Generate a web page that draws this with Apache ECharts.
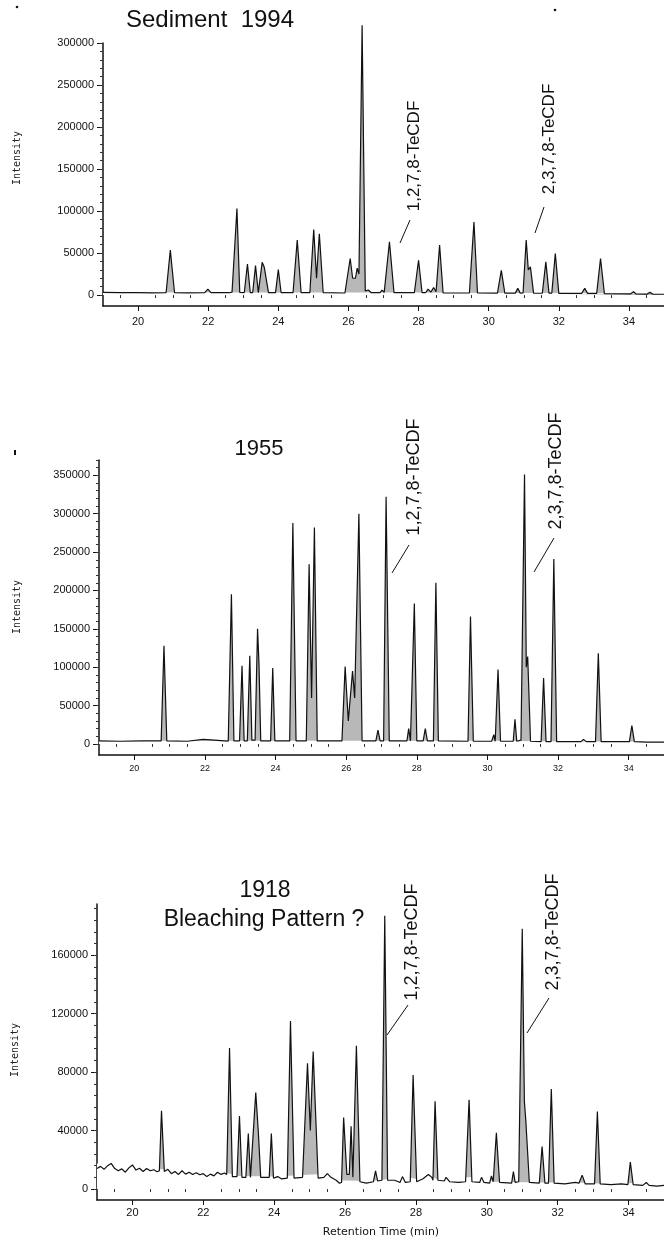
<!DOCTYPE html>
<html>
<head>
<meta charset="utf-8">
<script src="https://cdn.jsdelivr.net/npm/echarts@6/dist/echarts.min.js"></script>
<style>
  html, body { margin: 0; padding: 0; background: #fff; }
  #chart { width: 664px; height: 1242px; }
</style>
</head>
<body>
<div id="chart"></div>
<script>
// retention time ticks (min)
const xTicks = [20, 22, 24, 26, 28, 30, 32, 34];
const xMinorTicks = [19.5, 20.5, 21, 21.5, 22.5, 23, 23.5, 24.5, 25, 25.5, 26.5, 27, 27.5, 28.5, 29, 29.5, 30.5, 31, 31.5, 32.5, 33, 33.5, 34.5];
const yTicks1994 = [0, 50000, 100000, 150000, 200000, 250000, 300000];
const yTicks1955 = [0, 50000, 100000, 150000, 200000, 250000, 300000, 350000];
const yTicks1918 = [0, 40000, 80000, 120000, 160000];

// Sediment 1994 trace [time, intensity]
const trace1994 = [
  [19.0, 3200], [19.5, 2800], [20.0, 3000], [20.4, 2700], [20.8, 2800], [20.92, 53500], [21.04, 2800],
  [21.4, 2600], [21.9, 3000], [21.99, 7000], [22.08, 2800], [22.6, 2800],
  [22.68, 3500], [22.76, 60000], [22.82, 103000], [22.9, 3200],
  [23.03, 3000], [23.12, 37000], [23.2, 3000], [23.27, 3000], [23.35, 35000], [23.43, 3000],
  [23.47, 3500], [23.54, 39000], [23.6, 33000], [23.64, 34000], [23.72, 3000],
  [23.92, 3000], [24.0, 30500], [24.08, 2800], [24.42, 2800], [24.54, 65500], [24.65, 2800],
  [24.9, 3000], [25.01, 78000], [25.09, 20000], [25.17, 73000], [25.28, 2800],
  [25.9, 2500], [26.05, 43500], [26.12, 20000], [26.2, 20000], [26.25, 32000], [26.3, 25000],
  [26.39, 321000], [26.48, 5000], [26.57, 6000], [26.65, 2800],
  [26.9, 3000], [26.96, 6000], [27.02, 3200], [27.17, 63500], [27.3, 2800],
  [27.88, 2800], [28.0, 41500], [28.1, 2800], [28.2, 2800], [28.27, 7000], [28.35, 3500],
  [28.43, 9000], [28.5, 4000], [28.6, 59500], [28.7, 2500],
  [29.45, 2500], [29.58, 87000], [29.68, 2500], [30.25, 2400], [30.36, 29500], [30.46, 2300],
  [30.76, 2300], [30.83, 8000], [30.9, 2300], [30.98, 2500], [31.07, 65500], [31.13, 30000],
  [31.19, 33500], [31.28, 2300], [31.53, 2200], [31.63, 39500], [31.72, 2300], [31.8, 2300],
  [31.9, 49500], [32.0, 2000], [32.65, 2000], [32.74, 8000], [32.82, 2000],
  [33.08, 2000], [33.19, 43500], [33.3, 1800], [34.05, 1500], [34.13, 4000], [34.2, 1500],
  [34.52, 1200], [34.6, 3200], [34.68, 1200], [35.0, 1000]
];
const base1994 = [[19.0, 3300], [22, 3100], [26, 3100], [28, 3000], [30, 2600], [32, 2400], [35, 1600]];

// 1955 trace
const trace1955 = [
  [19.0, 4000], [19.6, 3500], [20.2, 4000], [20.76, 4000], [20.84, 128000], [20.92, 4000],
  [21.5, 3500], [21.95, 6000], [22.0, 3500], [22.66, 3800], [22.75, 195000], [22.82, 4000],
  [22.98, 4000], [23.05, 102000], [23.11, 4000], [23.2, 4000], [23.27, 115000], [23.33, 5000],
  [23.42, 5000], [23.49, 150000], [23.53, 105000], [23.58, 4000],
  [23.86, 4000], [23.92, 99000], [23.98, 4000], [24.4, 4000], [24.49, 288000], [24.58, 4000],
  [24.87, 4000], [24.95, 234000], [25.02, 60000], [25.1, 282000], [25.18, 4000],
  [25.88, 4000], [25.97, 101000], [26.06, 30000], [26.18, 95000], [26.24, 60000],
  [26.36, 300000], [26.45, 4000], [26.84, 4000], [26.9, 18000], [26.96, 4000],
  [27.06, 4000], [27.13, 322000], [27.22, 4000], [27.72, 4000], [27.77, 20000], [27.82, 4000],
  [27.87, 4000], [27.93, 183000], [28.0, 4000], [28.18, 4000], [28.24, 20000], [28.3, 4000],
  [28.47, 4000], [28.54, 210000], [28.61, 4000], [29.45, 3500], [29.52, 166000], [29.6, 3500],
  [30.12, 3500], [30.18, 12000], [30.22, 3500], [30.3, 97000], [30.37, 3500],
  [30.73, 3500], [30.78, 32000], [30.83, 3500], [30.95, 5000], [31.05, 351000], [31.1, 100000],
  [31.14, 114000], [31.22, 3500], [31.52, 3000], [31.59, 86000], [31.66, 3000],
  [31.8, 3000], [31.88, 241000], [31.96, 3000], [32.65, 3000], [32.72, 6000], [32.8, 3000],
  [33.06, 3000], [33.14, 118000], [33.22, 3000], [34.02, 3000], [34.09, 24000], [34.16, 3000],
  [34.5, 2500], [35.0, 2500]
];
const base1955 = [[19.0, 4200], [30, 4200], [31.4, 3600], [35, 2800]];

// 1918 trace
const trace1918 = [
  [19.0, 14000], [19.1, 15500], [19.2, 13500], [19.3, 16000], [19.4, 17500], [19.5, 14000],
  [19.6, 12500], [19.7, 13800], [19.8, 11500], [19.9, 14500], [20.0, 16500], [20.1, 13000],
  [20.2, 14200], [20.3, 12000], [20.4, 14000], [20.5, 12500], [20.6, 13200], [20.7, 11800],
  [20.76, 12500], [20.82, 53500], [20.9, 12000], [21.0, 13500], [21.1, 10500], [21.2, 12000],
  [21.3, 10000], [21.4, 12500], [21.5, 10200], [21.6, 11500], [21.7, 10000], [21.8, 11200],
  [21.9, 9800], [22.0, 10500], [22.1, 8500], [22.2, 10200], [22.3, 9000], [22.4, 11500],
  [22.5, 10000], [22.6, 11000], [22.66, 10000], [22.74, 96500], [22.82, 8500],
  [22.95, 8500], [23.02, 50000], [23.09, 8000], [23.2, 8000], [23.27, 38000], [23.33, 8000],
  [23.38, 9000], [23.48, 66000], [23.55, 40000], [23.62, 8000],
  [23.86, 8000], [23.92, 38000], [23.98, 7500], [24.1, 8500], [24.2, 7000],
  [24.37, 7500], [24.46, 115000], [24.56, 7500], [24.8, 8000], [24.94, 86000], [25.02, 40000],
  [25.1, 94000], [25.24, 7500], [25.4, 8000], [25.5, 10500], [25.6, 8000], [25.75, 6000],
  [25.84, 4000], [25.9, 4500], [25.96, 49000], [26.05, 10000], [26.12, 10000], [26.17, 43000],
  [26.22, 8000], [26.32, 98000], [26.42, 5000], [26.6, 4000], [26.8, 5000], [26.86, 12500],
  [26.92, 5500], [27.04, 6000], [27.12, 187000], [27.2, 6000], [27.4, 6000], [27.55, 4500],
  [27.62, 8500], [27.7, 4500], [27.84, 5000], [27.92, 78000], [28.02, 5000], [28.2, 7000],
  [28.35, 10000], [28.45, 8000], [28.48, 6000], [28.54, 60000], [28.62, 6000], [28.8, 5500],
  [28.85, 8000], [28.95, 5000], [29.2, 4500], [29.4, 5000], [29.44, 5000], [29.5, 61000],
  [29.58, 5000], [29.8, 4500], [29.85, 8000], [29.92, 4500], [30.08, 4000], [30.13, 9000],
  [30.18, 5000], [30.27, 38500], [30.36, 4500], [30.7, 4000], [30.75, 12000], [30.8, 4500],
  [30.9, 5000], [31.0, 178000], [31.06, 60000], [31.1, 47000], [31.2, 4500],
  [31.48, 4000], [31.56, 29000], [31.64, 4000], [31.74, 4000], [31.82, 68500], [31.9, 4000],
  [32.2, 3500], [32.5, 4500], [32.6, 4000], [32.69, 9500], [32.78, 3500], [33.04, 3500],
  [33.12, 53000], [33.2, 3500], [33.5, 3000], [33.8, 3500], [33.98, 3000], [34.05, 18500],
  [34.13, 3000], [34.4, 2500], [34.5, 4500], [34.58, 2500], [34.8, 2000], [35.0, 2500]
];
const base1918 = [
  [19.0, 17500], [20.0, 16500], [20.7, 13500], [21.0, 13500], [22.0, 11000], [22.6, 11500],
  [23.0, 9000], [24.0, 8500], [25.5, 10500], [25.8, 6000], [26.5, 5500], [27.0, 6000],
  [27.6, 8500], [28.0, 7000], [28.35, 10000], [28.6, 6500], [29.0, 8000], [29.9, 8000],
  [30.2, 5000], [31.5, 4500], [32.5, 4500], [33.5, 3500], [34.5, 4500], [35.0, 2500]
];

const FONT = "Liberation Sans";
const panels = [
  { trace: trace1994, base: base1994, yTicks: yTicks1994, yMinor: 10000,
    grid: { left: 103, top: 43, width: 565, height: 263 },
    xMin: 19, yMin: -13000, yMax: 300000, xFont: 11, yFont: 11, xMargin: 10 },
  { trace: trace1955, base: base1955, yTicks: yTicks1955, yMinor: 10000,
    grid: { left: 99, top: 460, width: 568, height: 295 },
    xMin: 19, yMin: -14400, yMax: 370000, xFont: 9, yFont: 11, xMargin: 9 },
  { trace: trace1918, base: base1918, yTicks: yTicks1918, yMinor: 8000,
    grid: { left: 97, top: 904, width: 567, height: 296 },
    xMin: 19, yMin: -7500, yMax: 195000, xFont: 11, yFont: 11, xMargin: 7 }
];

const grids = [], xAxes = [], yAxes = [], series = [];
panels.forEach((p, i) => {
  grids.push(p.grid);
  const minorY = [];
  for (let v = 0; v <= p.yMax; v += p.yMinor) minorY.push(v);
  xAxes.push({
    type: "value", gridIndex: i, min: p.xMin, max: 35,
    axisLine: { onZero: false, lineStyle: { color: "#111", width: 1.5 } },
    axisTick: { customValues: xTicks, length: 5, lineStyle: { color: "#111" } },
    axisLabel: { customValues: xTicks, color: "#111", fontSize: p.xFont, fontFamily: FONT,
      margin: p.xMargin, formatter: (v) => String(v) },
    splitLine: { show: false }
  });
  xAxes.push({
    type: "value", gridIndex: i, min: p.xMin, max: 35, position: "bottom",
    axisLine: { show: false },
    axisTick: { customValues: xMinorTicks, length: 3, lineStyle: { color: "#333" } },
    axisLabel: { show: false }, splitLine: { show: false }
  });
  yAxes.push({
    type: "value", gridIndex: i, min: p.yMin, max: p.yMax,
    axisLine: { show: true, lineStyle: { color: "#111", width: 1.5 } },
    axisTick: { customValues: p.yTicks, length: 6, lineStyle: { color: "#111" } },
    axisLabel: { customValues: p.yTicks, color: "#111", fontSize: p.yFont, fontFamily: FONT,
      margin: 9, formatter: (v) => String(v) },
    splitLine: { show: false }
  });
  yAxes.push({
    type: "value", gridIndex: i, min: p.yMin, max: p.yMax, position: "left",
    axisLine: { show: false },
    axisTick: { customValues: minorY, length: 3, lineStyle: { color: "#333" } },
    axisLabel: { show: false }, splitLine: { show: false }
  });
  const xi = i * 2, yi = i * 2;
  // grey fill under peaks
  series.push({
    type: "line", xAxisIndex: xi, yAxisIndex: yi, data: p.trace, symbol: "none",
    clip: false, silent: true, z: 1,
    lineStyle: { width: 0 }, areaStyle: { color: "rgba(0,0,0,0.28)", opacity: 1 }
  });
  // white mask up to the baseline
  series.push({
    type: "line", xAxisIndex: xi, yAxisIndex: yi, data: p.base, symbol: "none",
    clip: false, silent: true, z: 2,
    lineStyle: { width: 0 }, areaStyle: { color: "#fff", opacity: 1 }
  });
  // trace
  series.push({
    type: "line", xAxisIndex: xi, yAxisIndex: yi, data: p.trace, symbol: "none",
    clip: false, z: 3, lineStyle: { color: "#111", width: 1.2 }
  });
});

function vText(text, x, y, size) {
  return { type: "text", x: x, y: y, rotation: Math.PI / 2, z: 10,
    style: { text: text, fontSize: size, fontFamily: FONT, fill: "#111",
      textAlign: "center", textVerticalAlign: "middle", align: "center", verticalAlign: "middle" } };
}
function hText(text, x, y, size, family) {
  return { type: "text", x: x, y: y, z: 10,
    style: { text: text, fontSize: size, fontFamily: family || FONT, fill: "#111",
      textAlign: "center", textVerticalAlign: "middle", align: "center", verticalAlign: "middle" } };
}
function lead(x1, y1, x2, y2) {
  return { type: "line", z: 10, shape: { x1: x1, y1: y1, x2: x2, y2: y2 }, style: { stroke: "#111", lineWidth: 1 } };
}
function yTitle(x, y) {
  return { type: "text", x: x, y: y, rotation: Math.PI / 2, z: 10,
    style: { text: "Intensity", fontSize: 10, fontFamily: "DejaVu Sans Mono", fill: "#222",
      textAlign: "center", textVerticalAlign: "middle", align: "center", verticalAlign: "middle" } };
}

const graphics = [
  hText("Sediment  1994", 210, 20, 24),
  vText("1,2,7,8-TeCDF", 414, 156, 17),
  lead(410, 220, 400, 243),
  vText("2,3,7,8-TeCDF", 549, 139, 17),
  lead(544, 207, 535, 233),
  yTitle(17, 158),

  hText("1955", 259, 449, 22),
  vText("1,2,7,8-TeCDF", 414, 477, 18),
  lead(409, 545, 392, 573),
  vText("2,3,7,8-TeCDF", 556, 471, 18),
  lead(554, 538, 534, 572),
  yTitle(17, 607),

  hText("1918", 265, 891, 23),
  hText("Bleaching Pattern ?", 264, 920, 23),
  vText("1,2,7,8-TeCDF", 412, 942, 18),
  lead(408, 1005, 387, 1035),
  vText("2,3,7,8-TeCDF", 553, 932, 18),
  lead(549, 998, 527, 1033),
  yTitle(15, 1050),
  hText("Retention Time (min)", 381, 1232, 11, "DejaVu Sans"),

  { type: "circle", shape: { cx: 17, cy: 7, r: 1.3 }, style: { fill: "#111" } },
  { type: "circle", shape: { cx: 555, cy: 10, r: 1.3 }, style: { fill: "#111" } },
  { type: "rect", shape: { x: 14, y: 450, width: 2, height: 5 }, style: { fill: "#111" } }
];

const chart = echarts.init(document.getElementById("chart"), null, { renderer: "canvas" });
chart.setOption({
  backgroundColor: "#fff",
  animation: false,
  grid: grids,
  xAxis: xAxes,
  yAxis: yAxes,
  series: series,
  graphic: graphics
});
</script>
</body>
</html>
